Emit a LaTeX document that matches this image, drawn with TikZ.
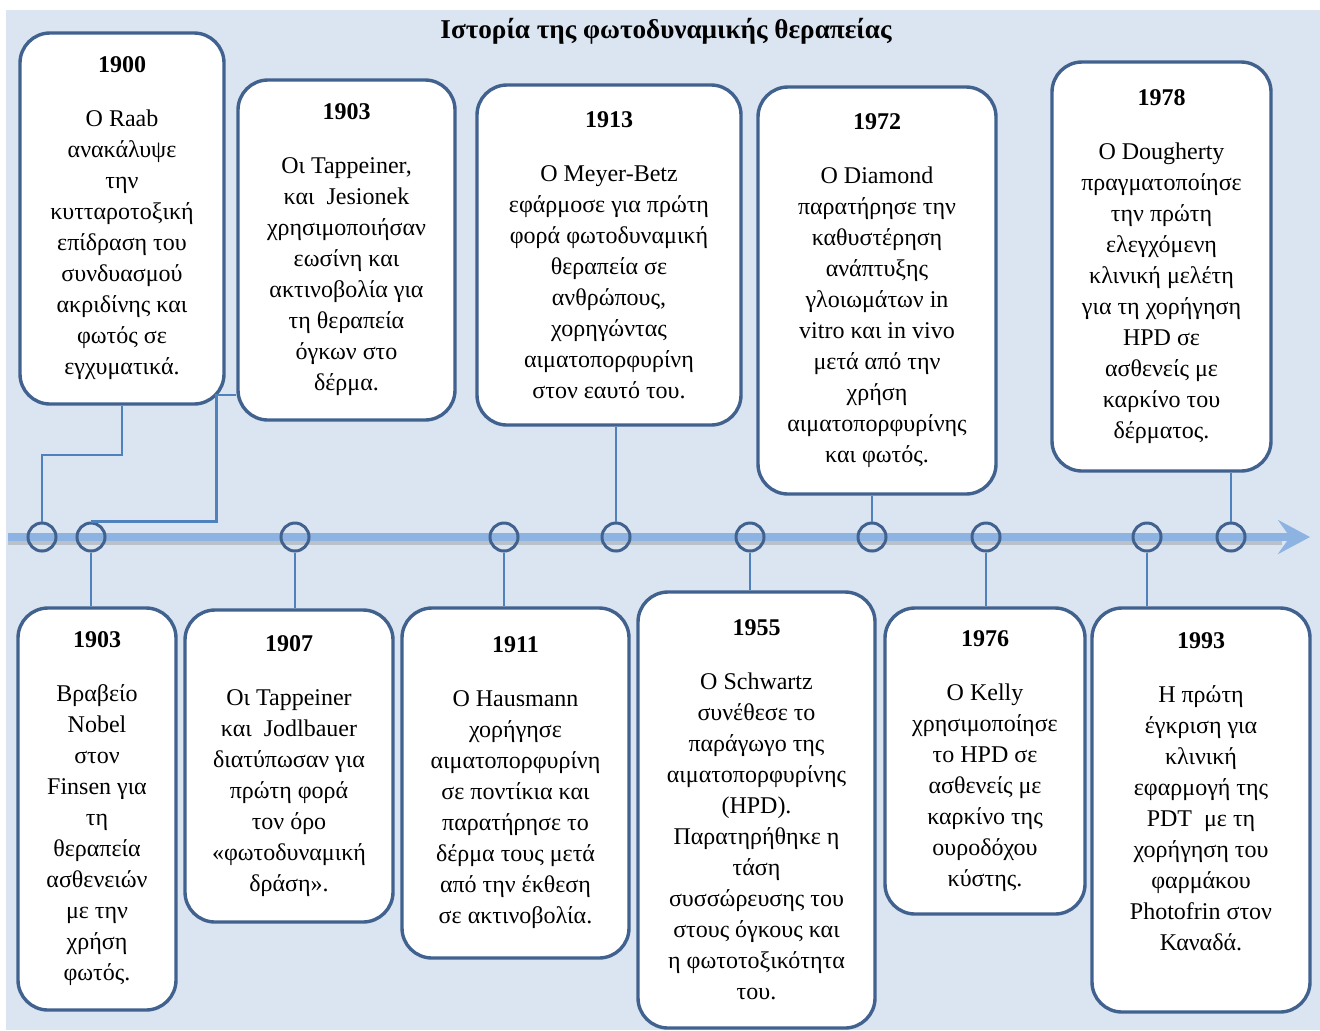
\documentclass[tikz,border=0pt]{standalone}
\usepackage{fontspec}
\setmainfont{Liberation Serif}
\usepackage{xcolor}
\usetikzlibrary{arrows.meta, positioning}
\definecolor{panelbg}{HTML}{DBE5F1}
\definecolor{boxline}{HTML}{41628F}
\definecolor{linkblue}{HTML}{4F81BD}
\definecolor{axisblue}{HTML}{8DB3E2}
\newcommand{\yr}[1]{\textbf{#1}\\[11.5pt]}

\begin{document}
\begin{tikzpicture}[
  x=0.5pt, y=-0.5pt,
  event/.style={draw=boxline, line width=1.7pt, fill=white, rounded corners=15pt, align=center, inner sep=0pt, font=\fontsize{12}{15.5}\selectfont},
  tick/.style={circle, draw=boxline, line width=1.5pt, minimum size=14pt, inner sep=0pt},
  link/.style={draw=linkblue, line width=1.2pt},
  axis/.style={draw=axisblue, line width=4pt, -{Stealth[length=16pt, width=17pt, inset=6pt]}}
]
\useasboundingbox (0,0) rectangle (1320,1030);
\fill[panelbg] (6,10) rectangle (1320,1030);

\node[font=\fontsize{13.6}{16}\selectfont\bfseries] (title) at (666,31) {Ιστορία της φωτοδυναμικής θεραπείας};

% time axis
\coordinate (a0) at (8,537);
\coordinate (a1) at (1310,537);
\draw[gray, opacity=0.35, line width=4pt] ([yshift=-2pt]a0) -- ([yshift=-2pt,xshift=-14pt]a1);
\draw[axis] (a0) -- (a1);

\node[tick] (c1) at (42,537) {};
\node[tick] (c2) at (91,537) {};
\node[tick] (c3) at (295,537) {};
\node[tick] (c4) at (504,537) {};
\node[tick] (c5) at (616,537) {};
\node[tick] (c6) at (750,537) {};
\node[tick] (c7) at (872,537) {};
\node[tick] (c8) at (986,537) {};
\node[tick] (c9) at (1147,537) {};
\node[tick] (c10) at (1231,537) {};

% events above the axis
\node[event, minimum width=102pt, minimum height=185.5pt] (t1900) at (122,218.5) {\yr{1900}
  O Raab\\ ανακάλυψε\\ την\\ κυτταροτοξική\\ επίδραση του\\ συνδυασμού\\ ακριδίνης και\\ φωτός σε\\ εγχυματικά.};
\node[event, minimum width=108.5pt, minimum height=170pt] (t1903) at (346.5,250) {\yr{1903}
  Οι Tappeiner,\\ και\ \ Jesionek\\ χρησιμοποιήσαν\\ εωσίνη και\\ ακτινοβολία για\\ τη θεραπεία\\ όγκων στο\\ δέρμα.};
\node[event, minimum width=132pt, minimum height=170pt] (t1913) at (609,255) {\yr{1913}
  O Meyer-Betz\\ εφάρμοσε για πρώτη\\ φορά φωτοδυναμική\\ θεραπεία σε\\ ανθρώπους,\\ χορηγώντας\\ αιματοπορφυρίνη\\ στον εαυτό του.};
\node[event, minimum width=119pt, minimum height=203.5pt] (t1972) at (877,290.5) {\yr{1972}
  O Diamond\\ παρατήρησε την\\ καθυστέρηση\\ ανάπτυξης\\ γλοιωμάτων in\\ vitro και in vivo\\ μετά από την\\ χρήση\\ αιματοπορφυρίνης\\ και φωτός.};
\node[event, minimum width=109.5pt, minimum height=204.5pt] (t1978) at (1161.5,266.5) {\yr{1978}
  O Dougherty\\ πραγματοποίησε\\ την πρώτη\\ ελεγχόμενη\\ κλινική μελέτη\\ για τη χορήγηση\\ HPD σε\\ ασθενείς με\\ καρκίνο του\\ δέρματος.};

% events below the axis
\node[event, minimum width=79pt, minimum height=201pt] (b1903) at (97,809) {\yr{1903}
  Βραβείο\\ Nobel\\ στον\\ Finsen για\\ τη\\ θεραπεία\\ ασθενειών\\ με την\\ χρήση\\ φωτός.};
\node[event, minimum width=104pt, minimum height=156pt] (b1907) at (289,766) {\yr{1907}
  Οι Tappeiner\\ και\ \ Jodlbauer\\ διατύπωσαν για\\ πρώτη φορά\\ τον όρο\\ «φωτοδυναμική\\ δράση».};
\node[event, minimum width=113.5pt, minimum height=175pt] (b1911) at (515.5,783) {\yr{1911}
  O Hausmann\\ χορήγησε\\ αιματοπορφυρίνη\\ σε ποντίκια και\\ παρατήρησε το\\ δέρμα τους μετά\\ από την έκθεση\\ σε ακτινοβολία.};
\node[event, minimum width=118.5pt, minimum height=218pt] (b1955) at (756.5,810) {\yr{1955}
  O Schwartz\\ συνέθεσε το\\ παράγωγο της\\ αιματοπορφυρίνης\\ (HPD).\\ Παρατηρήθηκε η\\ τάση\\ συσσώρευσης του\\ στους όγκους και\\ η φωτοτοξικότητα\\ του.};
\node[event, minimum width=100pt, minimum height=153pt] (b1976) at (985,761) {\yr{1976}
  O Kelly\\ χρησιμοποίησε\\ το HPD σε\\ ασθενείς με\\ καρκίνο της\\ ουροδόχου\\ κύστης.};
\node[event, minimum width=109pt, minimum height=202pt] (b1993) at (1201,810) {\yr{1993}
  Η πρώτη\\ έγκριση για\\ κλινική\\ εφαρμογή της\\ PDT\ \ με τη\\ χορήγηση του\\ φαρμάκου\\ Photofrin στον\\ Καναδά.\\[3pt] \mbox{}};

% connectors to the axis
\draw[link] (t1900.south) -- ++(0,49) -| (c1.north);
\draw[link] ([yshift=13.5pt]t1903.south west) -- ++(-20,0) |- (c2.north);
\draw[link] (c5.north) -- (c5.north |- t1913.south);
\draw[link] (c7.north) -- (c7.north |- t1972.south);
\draw[link] (c10.north) -- (c10.north |- t1978.south);
\draw[link] (c2.south) -- (c2.south |- b1903.north);
\draw[link] (c3.south) -- (c3.south |- b1907.north);
\draw[link] (c4.south) -- (c4.south |- b1911.north);
\draw[link] (c6.south) -- (c6.south |- b1955.north);
\draw[link] (c8.south) -- (c8.south |- b1976.north);
\draw[link] (c9.south) -- (c9.south |- b1993.north);
\end{tikzpicture}
\end{document}
